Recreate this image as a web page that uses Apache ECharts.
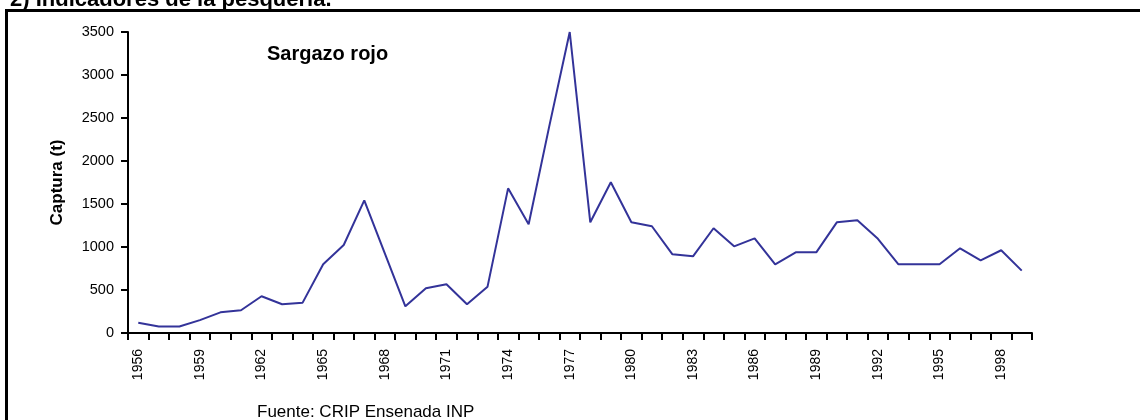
<!DOCTYPE html>
<html>
<head>
<meta charset="utf-8">
<script src="https://cdn.jsdelivr.net/npm/echarts@6/dist/echarts.min.js"></script>
<style>
html,body{margin:0;padding:0;background:#fff;}
#chart{width:1140px;height:420px;}
</style>
</head>
<body>
<div id="chart"></div>
<script>
const years = ['1956','1957','1958','1959','1960','1961','1962','1963','1964','1965','1966','1967','1968','1969','1970','1971','1972','1973','1974','1975','1976','1977','1978','1979','1980','1981','1982','1983','1984','1985','1986','1987','1988','1989','1990','1991','1992','1993','1994','1995','1996','1997','1998','1999'];
const captura = [120,75,75,150,240,264,427,334,353,799,1023,1543,925,310,520,566,334,539,1682,1264,2400,3500,1287,1752,1287,1241,915,892,1218,1008,1101,799,938,938,1287,1310,1095,799,799,799,985,845,962,725];
const yTicks = {min:0, max:3500, interval:500};
const pageTitle = '2) Indicadores de la pesquería.';
const chartTitle = 'Sargazo rojo';
const yName = 'Captura (t)';
const source = 'Fuente: CRIP Ensenada INP';

const FONT = '"Liberation Sans", Arial, sans-serif';
const chart = echarts.init(document.getElementById('chart'), null, {renderer:'canvas'});
chart.setOption({
  animation:false,
  backgroundColor:'#fff',
  textStyle:{fontFamily:FONT},
  grid:{left:128, right:108, top:32, bottom:87, containLabel:false},
  graphic:[
    {type:'rect', shape:{x:6.5, y:10.5, width:1300, height:600},
     style:{fill:'none', stroke:'#000', lineWidth:3}, z:100},
    {type:'text', x:10, y:-0.5,
     style:{text:pageTitle, font:'bold 22px '+FONT, fill:'#000', verticalAlign:'middle'}},
    {type:'text', x:267, y:44,
     style:{text:chartTitle, font:'bold 20px '+FONT, fill:'#000', verticalAlign:'top'}},
    {type:'text', x:257, y:404,
     style:{text:source, font:'17px '+FONT, fill:'#000', verticalAlign:'top'}}
  ],
  xAxis:{
    type:'category', data:years, boundaryGap:true,
    axisLine:{show:true, lineStyle:{color:'#000', width:2}},
    axisTick:{show:true, interval:0, length:7, lineStyle:{color:'#000', width:2}},
    axisLabel:{interval:2, rotate:90, margin:16, color:'#000', fontSize:14, fontFamily:FONT},
    splitLine:{show:false}
  },
  yAxis:{
    type:'value', min:yTicks.min, max:yTicks.max, interval:yTicks.interval,
    name:yName, nameLocation:'middle', nameRotate:90, nameGap:62,
    nameTextStyle:{color:'#000', fontSize:17, fontWeight:'bold', fontFamily:FONT},
    axisLine:{show:true, lineStyle:{color:'#000', width:2}},
    axisTick:{show:true, length:7, lineStyle:{color:'#000', width:2}},
    axisLabel:{margin:14, color:'#000', fontSize:14.5, fontFamily:FONT, formatter:function(v){return String(v);}},
    splitLine:{show:false}
  },
  series:[{
    type:'line', data:captura, symbol:'none',
    lineStyle:{color:'#333399', width:2}, itemStyle:{color:'#333399'}
  }]
});
</script>
</body>
</html>
